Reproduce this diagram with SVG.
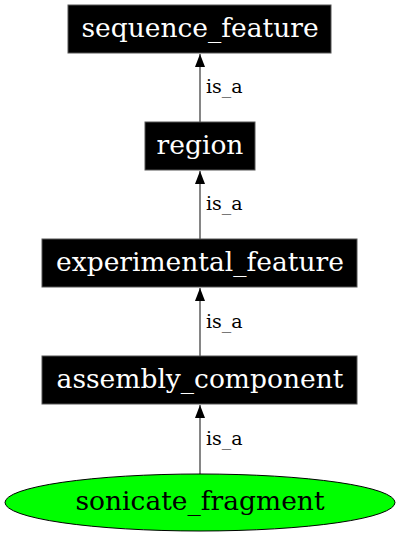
<svg xmlns="http://www.w3.org/2000/svg" width="400" height="536" viewBox="0 0 400 536">
<style>
.box{fill:#000;stroke:#555;stroke-width:1}
.lbl{font-family:"DejaVu Serif","Liberation Serif",serif;font-size:26.5px;fill:#fff;text-anchor:middle}
.elbl{font-family:"DejaVu Serif","Liberation Serif",serif;font-size:26.5px;fill:#000;text-anchor:middle}
.edge{stroke:#444;stroke-width:1.3;fill:none}
.etxt{font-family:"DejaVu Serif","Liberation Serif",serif;font-size:19px;fill:#000}
</style>
<defs>
<marker id="ah" markerWidth="13" markerHeight="10" refX="13" refY="5" orient="auto" markerUnits="userSpaceOnUse">
<path d="M0,0 L13,5 L0,10 Z" fill="#000"/>
</marker>
</defs>
<rect width="400" height="536" fill="#fff"/>
<g id="connectors">
<line class="edge" x1="200" y1="122" x2="200" y2="54" marker-end="url(#ah)"/>
<text class="etxt" x="206" y="93">is_a</text>
<line class="edge" x1="200" y1="239" x2="200" y2="171" marker-end="url(#ah)"/>
<text class="etxt" x="206" y="210">is_a</text>
<line class="edge" x1="200" y1="356" x2="200" y2="288" marker-end="url(#ah)"/>
<text class="etxt" x="206" y="327.5">is_a</text>
<line class="edge" x1="200" y1="474" x2="200" y2="405" marker-end="url(#ah)"/>
<text class="etxt" x="206" y="444.5">is_a</text>
</g>
<g id="sequence_feature">
<rect class="box" x="68" y="5" width="263" height="48"/>
<text class="lbl" x="200" y="37">sequence_feature</text>
</g>
<g id="region">
<rect class="box" x="145" y="122" width="110" height="48"/>
<text class="lbl" x="200" y="154">region</text>
</g>
<g id="experimental_feature">
<rect class="box" x="42" y="239" width="315" height="48"/>
<text class="lbl" x="200" y="271">experimental_feature</text>
</g>
<g id="assembly_component">
<rect class="box" x="42" y="356" width="315" height="48"/>
<text class="lbl" x="200" y="388">assembly_component</text>
</g>
<g id="sonicate_fragment">
<ellipse cx="200" cy="502.5" rx="195" ry="28.5" fill="#00ff00" stroke="#000" stroke-width="1"/>
<text class="elbl" x="200" y="510">sonicate_fragment</text>
</g>
</svg>
